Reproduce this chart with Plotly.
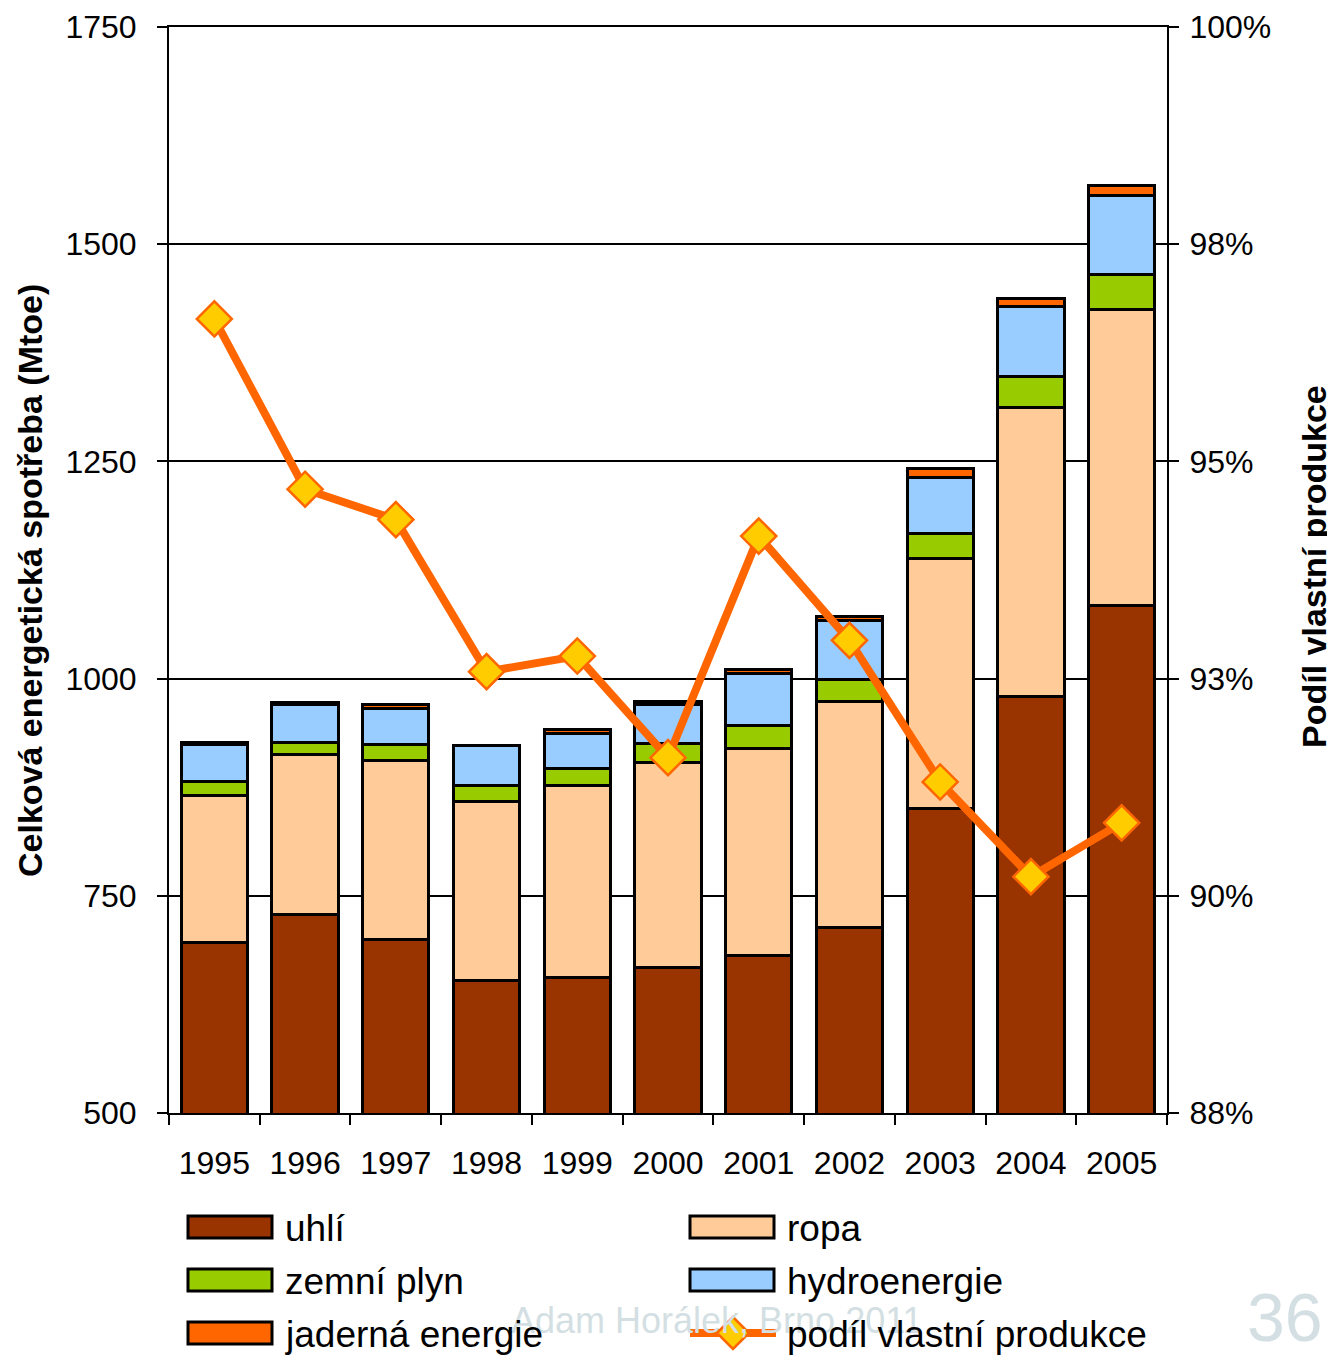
import plotly.graph_objects as go

years = ["1995", "1996", "1997", "1998", "1999", "2000", "2001", "2002", "2003", "2004", "2005"]
uhli = [696, 729, 700, 652, 656, 667, 681, 714, 851, 979, 1084]
ropa = [170, 184, 206, 207, 221, 236, 239, 260, 287, 333, 341]
zemni_plyn = [15, 14, 18, 18, 19, 22, 26, 25, 29, 36, 40]
hydroenergie = [43, 43, 42, 46, 41, 45, 60, 68, 65, 80, 91]
jaderna = [3, 3, 4, 0, 4, 4, 4, 5, 10, 10, 12]
podil = [96.64, 94.68, 94.33, 92.58, 92.76, 91.59, 94.14, 92.94, 91.31, 90.22, 90.84]

left_ticks = [500, 750, 1000, 1250, 1500, 1750]
right_ticks = [87.5, 90, 92.5, 95, 97.5, 100]
right_labels = ["88%", "90%", "93%", "95%", "98%", "100%"]

names = ["uhlí", "ropa", "zemní plyn", "hydroenergie", "jaderná energie"]
series = [uhli, ropa, zemni_plyn, hydroenergie, jaderna]
colors = ["#993300", "#FFCC99", "#99CC00", "#99CCFF", "#FF6600"]
line_name = "podíl vlastní produkce"

FONT = "Liberation Sans, Arial, sans-serif"

fig = go.Figure()
for n, s, c in zip(names, series, colors):
    fig.add_trace(go.Bar(x=years, y=s, name=n, marker=dict(color=c, line=dict(color="black", width=3)),
                         showlegend=False))

fig.add_trace(go.Scatter(x=years, y=podil, name=line_name, yaxis="y2", mode="lines+markers",
                         line=dict(color="#FF6600", width=8),
                         marker=dict(symbol="diamond", size=27, color="#FFCC00",
                                     line=dict(color="#FF6600", width=2.5)),
                         showlegend=False))

# page body has an 8px margin; reference pixel coords are shifted by OFF
OFF = 8
W, H = 1335 - OFF, 1356 - OFF
L, R, T, B = 169, 1167, 27, 1113  # plot area in reference pixels


def px(x):
    return (x - L) / (R - L)


def py(y):
    return (B - y) / (B - T)


shapes = []
annotations = []

# watermark
annotations.append(dict(text="Adam Horálek, Brno 2011", x=px(717), y=py(1320), xref="paper", yref="paper",
                        showarrow=False, xanchor="center", yanchor="middle",
                        font=dict(family=FONT, size=36, color="#D3DFE3")))
annotations.append(dict(text="36", x=px(1285), y=py(1317), xref="paper", yref="paper",
                        showarrow=False, xanchor="center", yanchor="middle",
                        font=dict(family=FONT, size=68, color="#D3DFE3")))

# legend (manual)
LEG_FS = 37
legend_pos = [(188, 1227), (690, 1227), (188, 1280), (690, 1280), (188, 1333)]
for (lx, ly), n, c in zip(legend_pos, names, colors):
    shapes.append(dict(type="rect", xref="paper", yref="paper",
                       x0=px(lx), x1=px(lx + 84), y0=py(ly - 11), y1=py(ly + 11),
                       fillcolor=c, line=dict(color="black", width=3)))
    annotations.append(dict(text=n, x=px(lx + 95), y=py(ly + 1), xref="paper", yref="paper",
                            showarrow=False, xanchor="left", yanchor="middle",
                            font=dict(family=FONT, size=LEG_FS, color="black")))
# line legend
lx, ly = 690, 1333
shapes.append(dict(type="line", xref="paper", yref="paper", x0=px(lx), x1=px(lx + 86), y0=py(ly), y1=py(ly),
                   line=dict(color="#FF6600", width=8)))
cx, d = lx + 43, 16
shapes.append(dict(type="path", xref="paper", yref="paper",
                   path=f"M {px(cx - d)} {py(ly)} L {px(cx)} {py(ly - d)} L {px(cx + d)} {py(ly)} L {px(cx)} {py(ly + d)} Z",
                   fillcolor="#FFCC00", line=dict(color="#FF6600", width=2.5)))
annotations.append(dict(text=line_name, x=px(lx + 95), y=py(ly + 1), xref="paper", yref="paper",
                        showarrow=False, xanchor="left", yanchor="middle",
                        font=dict(family=FONT, size=LEG_FS, color="black")))

# axis titles
annotations.append(dict(text="<b>Celková energetická spotřeba (Mtoe)</b>", x=px(30), y=py(581),
                        xref="paper", yref="paper", showarrow=False, textangle=-90,
                        xanchor="center", yanchor="middle",
                        font=dict(family=FONT, size=34, color="black")))
annotations.append(dict(text="<b>Podíl vlastní produkce</b>", x=px(1314), y=py(567),
                        xref="paper", yref="paper", showarrow=False, textangle=-90,
                        xanchor="center", yanchor="middle",
                        font=dict(family=FONT, size=34, color="black")))

fig.update_layout(
    width=W, height=H,
    margin=dict(l=L - OFF, r=W - (R - OFF), t=T - OFF, b=H - (B - OFF), autoexpand=False),
    paper_bgcolor="white", plot_bgcolor="white",
    barmode="stack", bargap=0.27,
    font=dict(family=FONT, size=32, color="black"),
    showlegend=False,
    xaxis=dict(type="category", range=[-0.5, len(years) - 0.5], tickson="boundaries", ticks="outside",
               ticklen=10, tickwidth=2,
               tickcolor="black", showline=True, linecolor="black", linewidth=2, mirror=True,
               showgrid=False, tickfont=dict(size=32), ticklabelstandoff=21),
    yaxis=dict(range=[500, 1750], tickvals=left_ticks, ticks="outside", ticklen=10, tickwidth=2,
               tickcolor="black", showline=True, linecolor="black", linewidth=2,
               showgrid=True, gridcolor="black", gridwidth=2, zeroline=False,
               tickfont=dict(size=32), ticklabelstandoff=14),
    yaxis2=dict(range=[87.5, 100], tickvals=right_ticks, ticktext=right_labels, overlaying="y", side="right",
                ticks="outside", ticklen=10, tickwidth=2, tickcolor="black", showline=True,
                linecolor="black", linewidth=2, showgrid=False, zeroline=False,
                tickfont=dict(size=32), ticklabelstandoff=4),
    shapes=shapes, annotations=annotations,
)

fig.write_html("out.html")
